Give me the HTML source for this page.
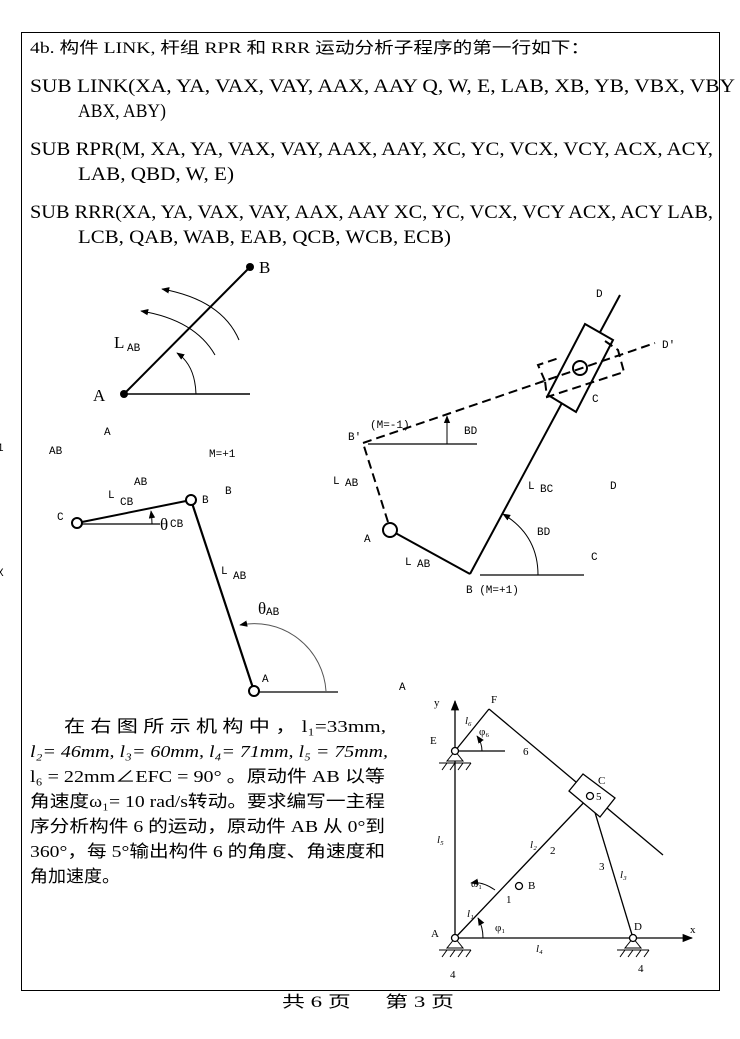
<!DOCTYPE html>
<html><head><meta charset="utf-8"><style>
body{margin:0;background:#fff;}
svg{display:block;}
.t{font-family:"Liberation Serif","Noto Serif CJK SC",serif;fill:#000;}
.c{font-family:"Liberation Serif","Noto Sans CJK SC",sans-serif;fill:#000;}
.s{font-family:"Liberation Mono",monospace;font-size:11px;fill:#000;}
</style></head><body>
<svg width="740" height="1039" viewBox="0 0 740 1039" xmlns="http://www.w3.org/2000/svg">
<defs>
<marker id="ar" viewBox="0 0 10 10" refX="9" refY="5" markerWidth="8" markerHeight="8" orient="auto"><path d="M0,1 L10,5 L0,9 Z" fill="#000"/></marker>
</defs>
<rect x="21.5" y="32.5" width="698" height="958" fill="none" stroke="#000" stroke-width="1"/>

<text class="c" x="30" y="53" font-size="16" textLength="560" lengthAdjust="spacingAndGlyphs">4b. 构件 LINK, 杆组 RPR 和 RRR 运动分析子程序的第一行如下：</text>
<g class="t" font-size="19">
<text x="30" y="92" textLength="705" lengthAdjust="spacingAndGlyphs">SUB LINK(XA, YA, VAX, VAY, AAX, AAY Q, W, E, LAB, XB, YB, VBX, VBY</text>
<text x="78" y="117" textLength="88" lengthAdjust="spacingAndGlyphs">ABX, ABY)</text>
<text x="30" y="155" textLength="683" lengthAdjust="spacingAndGlyphs">SUB RPR(M, XA, YA, VAX, VAY, AAX, AAY, XC, YC, VCX, VCY, ACX, ACY,</text>
<text x="78" y="180" textLength="156" lengthAdjust="spacingAndGlyphs">LAB, QBD, W, E)</text>
<text x="30" y="218" textLength="683" lengthAdjust="spacingAndGlyphs">SUB RRR(XA, YA, VAX, VAY, AAX, AAY XC, YC, VCX, VCY ACX, ACY LAB,</text>
<text x="78" y="243" textLength="373" lengthAdjust="spacingAndGlyphs">LCB, QAB, WAB, EAB, QCB, WCB, ECB)</text>
</g>

<!-- fig 1 -->
<g stroke="#000" fill="none">
<line x1="124" y1="394" x2="250" y2="267" stroke-width="2"/>
<line x1="124" y1="394" x2="250" y2="394" stroke-width="1.5"/>
<path d="M196,394 Q195,365 177,353" stroke-width="1" marker-end="url(#ar)"/>
<path d="M215,355 Q195,320 141,311" stroke-width="1" marker-end="url(#ar)"/>
<path d="M239,340 Q222,300 162,289" stroke-width="1" marker-end="url(#ar)"/>
</g>
<circle cx="124" cy="394" r="4" fill="#000"/><circle cx="250" cy="267" r="4" fill="#000"/>
<text class="t" x="93" y="401" font-size="17">A</text>
<text class="t" x="259" y="273" font-size="17">B</text>
<text class="t" x="114" y="348" font-size="17">L</text><text class="s" x="127" y="351">AB</text>

<text class="s" x="104" y="435">A</text>
<text class="s" x="49" y="454">AB</text>
<text class="s" x="-3" y="451">1</text>
<text class="s" x="209" y="457">M=+1</text>
<text class="s" x="134" y="485">AB</text>
<text class="s" x="108" y="498">L</text><text class="s" x="120" y="505" font-size="10">CB</text>
<text class="s" x="202" y="503">B</text>
<text class="s" x="225" y="494">B</text>
<text class="s" x="57" y="520">C</text>
<text class="s" x="-3" y="576">X</text>

<!-- fig 2 -->
<g stroke="#000" fill="none">
<line x1="77" y1="523" x2="191" y2="500" stroke-width="2"/>
<line x1="77" y1="524" x2="160" y2="524" stroke-width="1.3"/>
<path d="M152,524 Q152,518 151,511" stroke-width="1" marker-end="url(#ar)"/>
<line x1="191" y1="500" x2="254" y2="691" stroke-width="2.2"/>
<line x1="254" y1="692" x2="338" y2="692" stroke-width="1.3"/>
<path d="M326,691 A72,72 0 0 0 240,625" stroke-width="1" stroke="#555" marker-end="url(#ar)"/>
<circle cx="77" cy="523" r="5" fill="#fff" stroke-width="2"/>
<circle cx="191" cy="500" r="5" fill="#fff" stroke-width="2"/>
<circle cx="254" cy="691" r="5" fill="#fff" stroke-width="2"/>
</g>
<text class="t" x="160" y="530" font-size="17" fill="#555">θ</text><text class="s" x="170" y="527" font-size="10">CB</text>
<text class="t" x="258" y="614" font-size="17" fill="#555">θ</text><text class="s" x="266" y="615" font-size="10">AB</text>
<text class="s" x="221" y="574">L</text><text class="s" x="233" y="579" font-size="10">AB</text>
<text class="s" x="262" y="682">A</text>

<!-- fig 3 -->
<g stroke="#000" fill="none">
<line x1="470" y1="574" x2="620" y2="295" stroke-width="2"/>
<polygon points="585,324 613,340 576,412 548,395" fill="#fff" stroke-width="2"/>
<line x1="390" y1="530" x2="470" y2="574" stroke-width="2"/>
<g stroke-dasharray="9,5" stroke-width="2">
<line x1="388" y1="522" x2="363" y2="443"/>
<line x1="363" y1="443" x2="655" y2="343"/>
<polyline points="545,381 538,365 559,358"/>
<polyline points="605,341 618,350 624,372 547,397 545,381"/>
</g>
<circle cx="580" cy="368" r="7" stroke-width="2"/>
<circle cx="390" cy="530" r="7" fill="#fff" stroke-width="2"/>
<line x1="368" y1="444" x2="477" y2="444" stroke-width="1.3"/>
<line x1="447" y1="444" x2="447" y2="416" stroke-width="1" marker-end="url(#ar)"/>
<line x1="480" y1="575" x2="584" y2="575" stroke-width="1.3"/>
<path d="M538,575 Q538,535 503,514" stroke-width="1" marker-end="url(#ar)"/>
</g>
<text class="s" x="596" y="297">D</text>
<text class="s" x="662" y="348">D'</text>
<text class="s" x="592" y="402">C</text>
<text class="s" x="348" y="440">B'</text><text class="s" x="370" y="428">(M=-1)</text>
<text class="s" x="464" y="434" font-size="9">BD</text>
<text class="s" x="333" y="484">L</text><text class="s" x="345" y="486" font-size="10">AB</text>
<text class="s" x="528" y="489">L</text><text class="s" x="540" y="492" font-size="10">BC</text>
<text class="s" x="610" y="489">D</text>
<text class="s" x="537" y="535" font-size="9">BD</text>
<text class="s" x="364" y="542">A</text>
<text class="s" x="591" y="560">C</text>
<text class="s" x="405" y="565">L</text><text class="s" x="417" y="567" font-size="10">AB</text>
<text class="s" x="466" y="593">B (M=+1)</text>
<text class="s" x="399" y="690">A</text>

<!-- paragraph -->
<g class="c" font-size="17">
<text x="64" y="732" textLength="322" lengthAdjust="spacingAndGlyphs">在 右 图 所 示 机 构 中 ， l₁=33mm,</text>
<text x="30" y="757" textLength="358" lengthAdjust="spacingAndGlyphs" font-style="italic">l₂= 46mm, l₃= 60mm, l₄= 71mm, l₅ = 75mm,</text>
<text x="30" y="782" textLength="355" lengthAdjust="spacingAndGlyphs">l₆ = 22mm∠EFC = 90° 。原动件 AB 以等</text>
<text x="30" y="807" textLength="355" lengthAdjust="spacingAndGlyphs">角速度ω₁= 10 rad/s转动。要求编写一主程</text>
<text x="30" y="832" textLength="355" lengthAdjust="spacingAndGlyphs">序分析构件 6 的运动，原动件 AB 从 0°到</text>
<text x="30" y="857" textLength="355" lengthAdjust="spacingAndGlyphs">360°，每 5°输出构件 6 的角度、角速度和</text>
<text x="30" y="882" textLength="90" lengthAdjust="spacingAndGlyphs">角加速度。</text>
</g>

<!-- fig 4 -->
<g stroke="#000" fill="none" stroke-width="1.3">
<line x1="455" y1="939" x2="455" y2="701" marker-end="url(#ar)"/>
<line x1="455" y1="938" x2="692" y2="938" marker-end="url(#ar)"/>
<line x1="455" y1="751" x2="489" y2="709"/>
<line x1="489" y1="709" x2="663" y2="855"/>
<line x1="455" y1="751" x2="505" y2="751"/>
<line x1="455" y1="938" x2="590" y2="796"/>
<line x1="633" y1="938" x2="590" y2="796"/>
<polygon points="569,791 583,774 615,798 600,817" fill="#fff"/>
<circle cx="590" cy="796" r="3.5" fill="#fff"/>
<circle cx="519" cy="886" r="3.5" fill="#fff"/>
<path d="M483,938 Q483,927 478,918" stroke-width="1" marker-end="url(#ar)"/>
<path d="M495,890 Q482,881 471,883" stroke-width="1" marker-end="url(#ar)"/>
<path d="M482,751 Q482,743 477,736" stroke-width="1" marker-end="url(#ar)"/>
<g stroke-width="1">
<path d="M455,751 L447,761 L463,761 Z" fill="#fff"/>
<line x1="439" y1="763" x2="471" y2="763"/>
<path d="M442,770 l5,-7 M450,770 l5,-7 M458,770 l5,-7 M466,770 l5,-7"/>
<path d="M455,938 L447,948 L463,948 Z" fill="#fff"/>
<line x1="439" y1="950" x2="471" y2="950"/>
<path d="M442,957 l5,-7 M450,957 l5,-7 M458,957 l5,-7 M466,957 l5,-7"/>
<path d="M633,938 L625,948 L641,948 Z" fill="#fff"/>
<line x1="617" y1="950" x2="649" y2="950"/>
<path d="M620,957 l5,-7 M628,957 l5,-7 M636,957 l5,-7 M644,957 l5,-7"/>
</g>
<circle cx="455" cy="751" r="3.5" fill="#fff"/>
<circle cx="455" cy="938" r="3.5" fill="#fff"/>
<circle cx="633" cy="938" r="3.5" fill="#fff"/>
</g>
<g class="t" font-size="11">
<text x="434" y="706">y</text><text x="491" y="703">F</text>
<text x="465" y="724" font-style="italic">l₆</text><text x="479" y="735">φ₆</text>
<text x="430" y="744">E</text><text x="523" y="755">6</text>
<text x="598" y="784">C</text><text x="596" y="800">5</text>
<text x="437" y="843" font-style="italic">l₅</text>
<text x="530" y="848" font-style="italic">l₂</text><text x="550" y="854">2</text>
<text x="599" y="870">3</text><text x="620" y="878" font-style="italic">l₃</text>
<text x="471" y="887">ω₁</text><text x="528" y="889">B</text>
<text x="506" y="903">1</text><text x="467" y="917" font-style="italic">l₁</text>
<text x="495" y="931">φ₁</text>
<text x="431" y="937">A</text><text x="634" y="930">D</text>
<text x="690" y="933">x</text><text x="536" y="952" font-style="italic">l₄</text>
<text x="450" y="978">4</text><text x="638" y="972">4</text>
</g>

<text class="c" x="282" y="1007" font-size="16" textLength="172" lengthAdjust="spacingAndGlyphs">共 6 页&#160;&#160;&#160;&#160;&#160;&#160;第 3 页</text>
</svg>
</body></html>
